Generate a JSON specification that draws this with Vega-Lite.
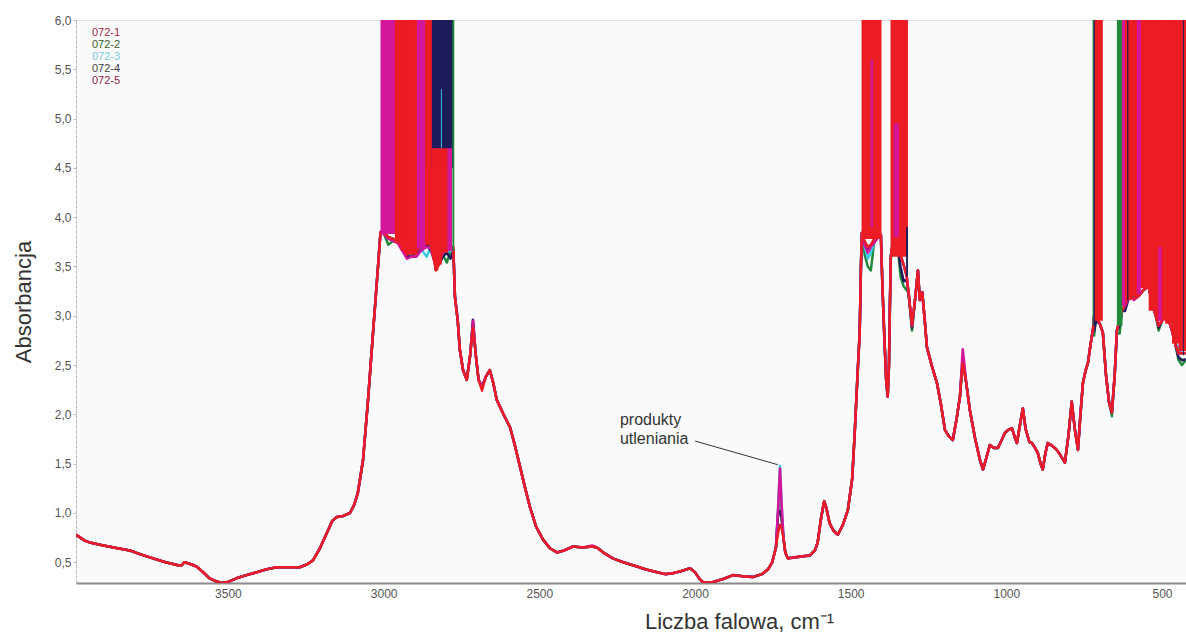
{
"$schema":"https://vega.github.io/schema/vega-lite/v6.json",
"width":1110,"height":563,
"autosize":{"type":"none"},
"padding":{"left":76,"top":20,"right":0,"bottom":50},
"background":"#ffffff",
"config":{"view":{"fill":"#fafafa","stroke":"#e2e2e2"},"font":"Liberation Sans"},
"datasets":{
"widma":[
{"w":3988,"072-1":0.78,"072-2":0.78,"072-3":0.78,"072-4":0.78,"072-5":0.78},
{"w":3960,"072-1":0.72,"072-2":0.72,"072-3":0.72,"072-4":0.72,"072-5":0.72},
{"w":3943,"072-1":0.70,"072-2":0.70,"072-3":0.70,"072-4":0.70,"072-5":0.70},
{"w":3900,"072-1":0.67,"072-2":0.67,"072-3":0.67,"072-4":0.67,"072-5":0.67},
{"w":3850,"072-1":0.64,"072-2":0.64,"072-3":0.64,"072-4":0.64,"072-5":0.64},
{"w":3815,"072-1":0.62,"072-2":0.62,"072-3":0.62,"072-4":0.62,"072-5":0.62},
{"w":3780,"072-1":0.58,"072-2":0.58,"072-3":0.58,"072-4":0.58,"072-5":0.58},
{"w":3741,"072-1":0.54,"072-2":0.54,"072-3":0.54,"072-4":0.54,"072-5":0.54},
{"w":3700,"072-1":0.50,"072-2":0.50,"072-3":0.50,"072-4":0.50,"072-5":0.50},
{"w":3660,"072-1":0.47,"072-2":0.47,"072-3":0.47,"072-4":0.47,"072-5":0.47},
{"w":3648,"072-1":0.47,"072-2":0.47,"072-3":0.47,"072-4":0.47,"072-5":0.47},
{"w":3640,"072-1":0.50,"072-2":0.50,"072-3":0.50,"072-4":0.50,"072-5":0.50},
{"w":3628,"072-1":0.49,"072-2":0.49,"072-3":0.49,"072-4":0.49,"072-5":0.49},
{"w":3610,"072-1":0.47,"072-2":0.47,"072-3":0.47,"072-4":0.47,"072-5":0.47},
{"w":3598,"072-1":0.45,"072-2":0.45,"072-3":0.45,"072-4":0.45,"072-5":0.45},
{"w":3580,"072-1":0.40,"072-2":0.40,"072-3":0.40,"072-4":0.40,"072-5":0.40},
{"w":3560,"072-1":0.34,"072-2":0.34,"072-3":0.34,"072-4":0.34,"072-5":0.34},
{"w":3540,"072-1":0.31,"072-2":0.31,"072-3":0.31,"072-4":0.31,"072-5":0.31},
{"w":3520,"072-1":0.29,"072-2":0.29,"072-3":0.29,"072-4":0.29,"072-5":0.29},
{"w":3500,"072-1":0.30,"072-2":0.30,"072-3":0.30,"072-4":0.30,"072-5":0.30},
{"w":3471,"072-1":0.34,"072-2":0.34,"072-3":0.34,"072-4":0.34,"072-5":0.34},
{"w":3440,"072-1":0.37,"072-2":0.37,"072-3":0.37,"072-4":0.37,"072-5":0.37},
{"w":3407,"072-1":0.40,"072-2":0.40,"072-3":0.40,"072-4":0.40,"072-5":0.40},
{"w":3375,"072-1":0.43,"072-2":0.43,"072-3":0.43,"072-4":0.43,"072-5":0.43},
{"w":3343,"072-1":0.45,"072-2":0.45,"072-3":0.45,"072-4":0.45,"072-5":0.45},
{"w":3300,"072-1":0.45,"072-2":0.45,"072-3":0.45,"072-4":0.45,"072-5":0.45},
{"w":3269,"072-1":0.45,"072-2":0.45,"072-3":0.45,"072-4":0.45,"072-5":0.45},
{"w":3245,"072-1":0.48,"072-2":0.48,"072-3":0.48,"072-4":0.48,"072-5":0.48},
{"w":3227,"072-1":0.52,"072-2":0.52,"072-3":0.52,"072-4":0.52,"072-5":0.52},
{"w":3205,"072-1":0.64,"072-2":0.64,"072-3":0.64,"072-4":0.64,"072-5":0.64},
{"w":3182,"072-1":0.80,"072-2":0.80,"072-3":0.80,"072-4":0.80,"072-5":0.80},
{"w":3165,"072-1":0.92,"072-2":0.92,"072-3":0.92,"072-4":0.92,"072-5":0.92},
{"w":3150,"072-1":0.96,"072-2":0.96,"072-3":0.96,"072-4":0.96,"072-5":0.96},
{"w":3130,"072-1":0.97,"072-2":0.97,"072-3":0.97,"072-4":0.97,"072-5":0.97},
{"w":3108,"072-1":1.00,"072-2":1.00,"072-3":1.00,"072-4":1.00,"072-5":1.00},
{"w":3095,"072-1":1.08,"072-2":1.08,"072-3":1.08,"072-4":1.08,"072-5":1.08},
{"w":3083,"072-1":1.20,"072-2":1.20,"072-3":1.20,"072-4":1.20,"072-5":1.20},
{"w":3066,"072-1":1.54,"072-2":1.54,"072-3":1.54,"072-4":1.54,"072-5":1.54},
{"w":3050,"072-1":2.15,"072-2":2.15,"072-3":2.15,"072-4":2.15,"072-5":2.15},
{"w":3034,"072-1":2.83,"072-2":2.83,"072-3":2.83,"072-4":2.83,"072-5":2.83},
{"w":3018,"072-1":3.50,"072-2":3.50,"072-3":3.50,"072-4":3.50,"072-5":3.50},
{"w":3010,"072-1":3.85,"072-2":3.85,"072-3":3.85,"072-4":3.85,"072-5":3.85},
{"w":3000,"072-1":3.85,"072-2":3.84,"072-3":3.84,"072-4":3.84,"072-5":3.83},
{"w":2985,"072-1":3.80,"072-2":3.72,"072-3":3.80,"072-4":3.80,"072-5":3.78},
{"w":2970,"072-1":3.78,"072-2":3.76,"072-3":3.78,"072-4":3.78,"072-5":3.76},
{"w":2955,"072-1":3.76,"072-2":3.74,"072-3":3.75,"072-4":3.75,"072-5":3.74},
{"w":2940,"072-1":3.70,"072-2":3.68,"072-3":3.68,"072-4":3.70,"072-5":3.66},
{"w":2925,"072-1":3.62,"072-2":3.60,"072-3":3.60,"072-4":3.60,"072-5":3.58},
{"w":2910,"072-1":3.64,"072-2":3.62,"072-3":3.62,"072-4":3.60,"072-5":3.60},
{"w":2895,"072-1":3.66,"072-2":3.64,"072-3":3.64,"072-4":3.64,"072-5":3.60},
{"w":2880,"072-1":3.70,"072-2":3.68,"072-3":3.68,"072-4":3.66,"072-5":3.66},
{"w":2862,"072-1":3.74,"072-2":3.72,"072-3":3.60,"072-4":3.72,"072-5":3.70},
{"w":2848,"072-1":3.72,"072-2":3.70,"072-3":3.70,"072-4":3.66,"072-5":3.68},
{"w":2832,"072-1":3.46,"072-2":3.50,"072-3":3.50,"072-4":3.52,"072-5":3.50},
{"w":2822,"072-1":3.52,"072-2":3.55,"072-3":3.55,"072-4":3.52,"072-5":3.55},
{"w":2810,"072-1":3.66,"072-2":3.62,"072-3":3.62,"072-4":3.60,"072-5":3.64},
{"w":2797,"072-1":3.68,"072-2":3.54,"072-3":3.64,"072-4":3.64,"072-5":3.66},
{"w":2785,"072-1":3.70,"072-2":3.66,"072-3":3.66,"072-4":3.58,"072-5":3.68},
{"w":2776,"072-1":3.70,"072-2":3.66,"072-3":3.68,"072-4":3.66,"072-5":3.68},
{"w":2771,"072-1":3.18,"072-2":3.20,"072-3":3.20,"072-4":3.20,"072-5":3.20},
{"w":2762,"072-1":2.95,"072-2":2.95,"072-3":2.95,"072-4":2.95,"072-5":2.95},
{"w":2755,"072-1":2.65,"072-2":2.65,"072-3":2.65,"072-4":2.65,"072-5":2.65},
{"w":2745,"072-1":2.45,"072-2":2.45,"072-3":2.45,"072-4":2.45,"072-5":2.45},
{"w":2733,"072-1":2.35,"072-2":2.35,"072-3":2.35,"072-4":2.35,"072-5":2.35},
{"w":2722,"072-1":2.60,"072-2":2.60,"072-3":2.60,"072-4":2.60,"072-5":2.60},
{"w":2713,"072-1":2.88,"072-2":2.92,"072-3":2.92,"072-4":2.96,"072-5":2.95},
{"w":2704,"072-1":2.60,"072-2":2.60,"072-3":2.60,"072-4":2.60,"072-5":2.60},
{"w":2695,"072-1":2.35,"072-2":2.35,"072-3":2.35,"072-4":2.35,"072-5":2.35},
{"w":2684,"072-1":2.24,"072-2":2.28,"072-3":2.28,"072-4":2.28,"072-5":2.28},
{"w":2672,"072-1":2.38,"072-2":2.38,"072-3":2.38,"072-4":2.38,"072-5":2.38},
{"w":2659,"072-1":2.45,"072-2":2.45,"072-3":2.45,"072-4":2.45,"072-5":2.45},
{"w":2648,"072-1":2.32,"072-2":2.32,"072-3":2.32,"072-4":2.32,"072-5":2.32},
{"w":2637,"072-1":2.15,"072-2":2.15,"072-3":2.15,"072-4":2.15,"072-5":2.15},
{"w":2615,"072-1":2.00,"072-2":2.00,"072-3":2.00,"072-4":2.00,"072-5":2.00},
{"w":2594,"072-1":1.87,"072-2":1.87,"072-3":1.87,"072-4":1.87,"072-5":1.87},
{"w":2578,"072-1":1.68,"072-2":1.68,"072-3":1.68,"072-4":1.68,"072-5":1.68},
{"w":2562,"072-1":1.47,"072-2":1.47,"072-3":1.47,"072-4":1.47,"072-5":1.47},
{"w":2546,"072-1":1.26,"072-2":1.26,"072-3":1.26,"072-4":1.26,"072-5":1.26},
{"w":2530,"072-1":1.06,"072-2":1.06,"072-3":1.06,"072-4":1.06,"072-5":1.06},
{"w":2510,"072-1":0.86,"072-2":0.86,"072-3":0.86,"072-4":0.86,"072-5":0.86},
{"w":2488,"072-1":0.73,"072-2":0.73,"072-3":0.73,"072-4":0.73,"072-5":0.73},
{"w":2465,"072-1":0.64,"072-2":0.64,"072-3":0.64,"072-4":0.64,"072-5":0.64},
{"w":2443,"072-1":0.60,"072-2":0.60,"072-3":0.60,"072-4":0.60,"072-5":0.60},
{"w":2420,"072-1":0.62,"072-2":0.62,"072-3":0.62,"072-4":0.62,"072-5":0.62},
{"w":2392,"072-1":0.66,"072-2":0.66,"072-3":0.66,"072-4":0.66,"072-5":0.66},
{"w":2360,"072-1":0.65,"072-2":0.65,"072-3":0.65,"072-4":0.65,"072-5":0.65},
{"w":2330,"072-1":0.66,"072-2":0.66,"072-3":0.66,"072-4":0.66,"072-5":0.67},
{"w":2315,"072-1":0.65,"072-2":0.65,"072-3":0.65,"072-4":0.65,"072-5":0.65},
{"w":2290,"072-1":0.59,"072-2":0.59,"072-3":0.59,"072-4":0.59,"072-5":0.59},
{"w":2264,"072-1":0.54,"072-2":0.54,"072-3":0.54,"072-4":0.54,"072-5":0.54},
{"w":2230,"072-1":0.50,"072-2":0.50,"072-3":0.50,"072-4":0.50,"072-5":0.50},
{"w":2199,"072-1":0.47,"072-2":0.47,"072-3":0.47,"072-4":0.47,"072-5":0.47},
{"w":2160,"072-1":0.43,"072-2":0.43,"072-3":0.43,"072-4":0.43,"072-5":0.43},
{"w":2122,"072-1":0.40,"072-2":0.40,"072-3":0.40,"072-4":0.40,"072-5":0.40},
{"w":2095,"072-1":0.38,"072-2":0.38,"072-3":0.38,"072-4":0.38,"072-5":0.38},
{"w":2071,"072-1":0.39,"072-2":0.39,"072-3":0.39,"072-4":0.39,"072-5":0.39},
{"w":2045,"072-1":0.41,"072-2":0.41,"072-3":0.41,"072-4":0.41,"072-5":0.41},
{"w":2016,"072-1":0.44,"072-2":0.44,"072-3":0.44,"072-4":0.44,"072-5":0.44},
{"w":2000,"072-1":0.40,"072-2":0.40,"072-3":0.40,"072-4":0.40,"072-5":0.40},
{"w":1985,"072-1":0.33,"072-2":0.33,"072-3":0.33,"072-4":0.33,"072-5":0.33},
{"w":1975,"072-1":0.30,"072-2":0.30,"072-3":0.30,"072-4":0.30,"072-5":0.30},
{"w":1960,"072-1":0.29,"072-2":0.29,"072-3":0.29,"072-4":0.29,"072-5":0.29},
{"w":1942,"072-1":0.30,"072-2":0.30,"072-3":0.30,"072-4":0.30,"072-5":0.30},
{"w":1910,"072-1":0.33,"072-2":0.33,"072-3":0.33,"072-4":0.33,"072-5":0.33},
{"w":1878,"072-1":0.37,"072-2":0.37,"072-3":0.37,"072-4":0.37,"072-5":0.37},
{"w":1850,"072-1":0.36,"072-2":0.36,"072-3":0.36,"072-4":0.36,"072-5":0.36},
{"w":1814,"072-1":0.35,"072-2":0.35,"072-3":0.35,"072-4":0.35,"072-5":0.35},
{"w":1785,"072-1":0.38,"072-2":0.38,"072-3":0.38,"072-4":0.38,"072-5":0.38},
{"w":1765,"072-1":0.43,"072-2":0.43,"072-3":0.43,"072-4":0.43,"072-5":0.43},
{"w":1752,"072-1":0.50,"072-2":0.50,"072-3":0.50,"072-4":0.50,"072-5":0.50},
{"w":1740,"072-1":0.65,"072-2":0.65,"072-3":0.65,"072-4":0.65,"072-5":0.65},
{"w":1733,"072-1":0.80,"072-2":1.00,"072-3":1.05,"072-4":1.00,"072-5":1.05},
{"w":1727,"072-1":0.88,"072-2":1.30,"072-3":1.48,"072-4":1.02,"072-5":1.45},
{"w":1722,"072-1":0.85,"072-2":1.00,"072-3":1.10,"072-4":0.95,"072-5":1.10},
{"w":1716,"072-1":0.75,"072-2":0.75,"072-3":0.75,"072-4":0.75,"072-5":0.75},
{"w":1710,"072-1":0.60,"072-2":0.60,"072-3":0.60,"072-4":0.60,"072-5":0.60},
{"w":1702,"072-1":0.54,"072-2":0.54,"072-3":0.54,"072-4":0.54,"072-5":0.54},
{"w":1680,"072-1":0.55,"072-2":0.55,"072-3":0.55,"072-4":0.55,"072-5":0.55},
{"w":1655,"072-1":0.56,"072-2":0.56,"072-3":0.56,"072-4":0.56,"072-5":0.56},
{"w":1631,"072-1":0.57,"072-2":0.57,"072-3":0.57,"072-4":0.57,"072-5":0.57},
{"w":1615,"072-1":0.62,"072-2":0.62,"072-3":0.62,"072-4":0.62,"072-5":0.62},
{"w":1606,"072-1":0.70,"072-2":0.70,"072-3":0.70,"072-4":0.70,"072-5":0.70},
{"w":1595,"072-1":0.95,"072-2":0.95,"072-3":0.95,"072-4":0.95,"072-5":0.95},
{"w":1585,"072-1":1.12,"072-2":1.12,"072-3":1.12,"072-4":1.12,"072-5":1.12},
{"w":1578,"072-1":1.05,"072-2":1.05,"072-3":1.05,"072-4":1.05,"072-5":1.05},
{"w":1568,"072-1":0.90,"072-2":0.90,"072-3":0.90,"072-4":0.90,"072-5":0.90},
{"w":1555,"072-1":0.82,"072-2":0.82,"072-3":0.82,"072-4":0.82,"072-5":0.82},
{"w":1541,"072-1":0.78,"072-2":0.78,"072-3":0.78,"072-4":0.78,"072-5":0.78},
{"w":1525,"072-1":0.88,"072-2":0.88,"072-3":0.88,"072-4":0.88,"072-5":0.88},
{"w":1509,"072-1":1.03,"072-2":1.03,"072-3":1.03,"072-4":1.03,"072-5":1.03},
{"w":1495,"072-1":1.35,"072-2":1.35,"072-3":1.35,"072-4":1.35,"072-5":1.35},
{"w":1487,"072-1":1.81,"072-2":1.81,"072-3":1.81,"072-4":1.81,"072-5":1.81},
{"w":1478,"072-1":2.40,"072-2":2.40,"072-3":2.40,"072-4":2.40,"072-5":2.40},
{"w":1471,"072-1":2.83,"072-2":2.83,"072-3":2.83,"072-4":2.83,"072-5":2.83},
{"w":1467,"072-1":3.50,"072-2":3.50,"072-3":3.50,"072-4":3.50,"072-5":3.50},
{"w":1464,"072-1":3.84,"072-2":3.84,"072-3":3.84,"072-4":3.84,"072-5":3.84},
{"w":1455,"072-1":3.76,"072-2":3.62,"072-3":3.70,"072-4":3.72,"072-5":3.72},
{"w":1445,"072-1":3.70,"072-2":3.50,"072-3":3.58,"072-4":3.66,"072-5":3.64},
{"w":1435,"072-1":3.72,"072-2":3.46,"072-3":3.64,"072-4":3.72,"072-5":3.70},
{"w":1425,"072-1":3.78,"072-2":3.74,"072-3":3.74,"072-4":3.74,"072-5":3.74},
{"w":1412,"072-1":3.80,"072-2":3.80,"072-3":3.80,"072-4":3.80,"072-5":3.80},
{"w":1403,"072-1":3.82,"072-2":3.82,"072-3":3.82,"072-4":3.82,"072-5":3.82},
{"w":1398,"072-1":3.30,"072-2":3.30,"072-3":3.30,"072-4":3.30,"072-5":3.30},
{"w":1392,"072-1":2.80,"072-2":2.80,"072-3":2.80,"072-4":2.80,"072-5":2.80},
{"w":1386,"072-1":2.35,"072-2":2.35,"072-3":2.35,"072-4":2.35,"072-5":2.35},
{"w":1381,"072-1":2.18,"072-2":2.18,"072-3":2.18,"072-4":2.18,"072-5":2.18},
{"w":1377,"072-1":2.50,"072-2":2.50,"072-3":2.50,"072-4":2.50,"072-5":2.50},
{"w":1374,"072-1":3.10,"072-2":3.10,"072-3":3.10,"072-4":3.10,"072-5":3.10},
{"w":1371,"072-1":3.60,"072-2":3.60,"072-3":3.60,"072-4":3.60,"072-5":3.60},
{"w":1362,"072-1":3.80,"072-2":3.80,"072-3":3.80,"072-4":3.80,"072-5":3.80},
{"w":1350,"072-1":3.74,"072-2":3.74,"072-3":3.74,"072-4":3.74,"072-5":3.74},
{"w":1340,"072-1":3.62,"072-2":3.40,"072-3":3.62,"072-4":3.50,"072-5":3.62},
{"w":1330,"072-1":3.52,"072-2":3.30,"072-3":3.52,"072-4":3.35,"072-5":3.52},
{"w":1320,"072-1":3.40,"072-2":3.26,"072-3":3.40,"072-4":3.36,"072-5":3.40},
{"w":1314,"072-1":3.23,"072-2":3.23,"072-3":3.23,"072-4":3.23,"072-5":3.23},
{"w":1303,"072-1":2.90,"072-2":2.85,"072-3":2.90,"072-4":2.88,"072-5":2.90},
{"w":1292,"072-1":3.20,"072-2":3.20,"072-3":3.20,"072-4":3.20,"072-5":3.20},
{"w":1284,"072-1":3.46,"072-2":3.46,"072-3":3.46,"072-4":3.46,"072-5":3.46},
{"w":1278,"072-1":3.16,"072-2":3.16,"072-3":3.16,"072-4":3.16,"072-5":3.16},
{"w":1270,"072-1":3.24,"072-2":3.24,"072-3":3.24,"072-4":3.24,"072-5":3.24},
{"w":1262,"072-1":2.95,"072-2":2.95,"072-3":2.95,"072-4":2.95,"072-5":2.95},
{"w":1255,"072-1":2.68,"072-2":2.68,"072-3":2.68,"072-4":2.68,"072-5":2.68},
{"w":1240,"072-1":2.50,"072-2":2.50,"072-3":2.50,"072-4":2.50,"072-5":2.50},
{"w":1223,"072-1":2.32,"072-2":2.32,"072-3":2.32,"072-4":2.32,"072-5":2.32},
{"w":1210,"072-1":2.10,"072-2":2.10,"072-3":2.10,"072-4":2.10,"072-5":2.10},
{"w":1197,"072-1":1.84,"072-2":1.84,"072-3":1.84,"072-4":1.84,"072-5":1.84},
{"w":1185,"072-1":1.78,"072-2":1.78,"072-3":1.78,"072-4":1.78,"072-5":1.78},
{"w":1172,"072-1":1.74,"072-2":1.74,"072-3":1.74,"072-4":1.74,"072-5":1.74},
{"w":1160,"072-1":1.95,"072-2":1.95,"072-3":1.95,"072-4":1.95,"072-5":1.95},
{"w":1149,"072-1":2.18,"072-2":2.18,"072-3":2.18,"072-4":2.18,"072-5":2.18},
{"w":1140,"072-1":2.52,"072-2":2.56,"072-3":2.58,"072-4":2.56,"072-5":2.66},
{"w":1128,"072-1":2.30,"072-2":2.30,"072-3":2.30,"072-4":2.30,"072-5":2.30},
{"w":1117,"072-1":2.04,"072-2":2.04,"072-3":2.04,"072-4":2.04,"072-5":2.04},
{"w":1100,"072-1":1.75,"072-2":1.75,"072-3":1.75,"072-4":1.75,"072-5":1.75},
{"w":1085,"072-1":1.54,"072-2":1.54,"072-3":1.54,"072-4":1.54,"072-5":1.54},
{"w":1075,"072-1":1.44,"072-2":1.44,"072-3":1.44,"072-4":1.44,"072-5":1.44},
{"w":1065,"072-1":1.55,"072-2":1.55,"072-3":1.55,"072-4":1.55,"072-5":1.55},
{"w":1053,"072-1":1.69,"072-2":1.69,"072-3":1.69,"072-4":1.69,"072-5":1.69},
{"w":1040,"072-1":1.66,"072-2":1.66,"072-3":1.66,"072-4":1.66,"072-5":1.66},
{"w":1027,"072-1":1.66,"072-2":1.66,"072-3":1.66,"072-4":1.66,"072-5":1.66},
{"w":1015,"072-1":1.74,"072-2":1.74,"072-3":1.74,"072-4":1.74,"072-5":1.74},
{"w":1005,"072-1":1.81,"072-2":1.81,"072-3":1.81,"072-4":1.81,"072-5":1.81},
{"w":995,"072-1":1.84,"072-2":1.84,"072-3":1.84,"072-4":1.84,"072-5":1.84},
{"w":982,"072-1":1.86,"072-2":1.86,"072-3":1.86,"072-4":1.86,"072-5":1.86},
{"w":972,"072-1":1.76,"072-2":1.76,"072-3":1.76,"072-4":1.76,"072-5":1.76},
{"w":966,"072-1":1.71,"072-2":1.71,"072-3":1.71,"072-4":1.71,"072-5":1.71},
{"w":956,"072-1":1.90,"072-2":1.90,"072-3":1.90,"072-4":1.90,"072-5":1.90},
{"w":947,"072-1":2.06,"072-2":2.06,"072-3":2.06,"072-4":2.06,"072-5":2.06},
{"w":938,"072-1":1.85,"072-2":1.85,"072-3":1.85,"072-4":1.85,"072-5":1.85},
{"w":926,"072-1":1.72,"072-2":1.72,"072-3":1.72,"072-4":1.72,"072-5":1.72},
{"w":918,"072-1":1.71,"072-2":1.71,"072-3":1.71,"072-4":1.71,"072-5":1.71},
{"w":908,"072-1":1.66,"072-2":1.66,"072-3":1.66,"072-4":1.66,"072-5":1.66},
{"w":899,"072-1":1.61,"072-2":1.61,"072-3":1.61,"072-4":1.61,"072-5":1.61},
{"w":890,"072-1":1.50,"072-2":1.50,"072-3":1.50,"072-4":1.50,"072-5":1.50},
{"w":883,"072-1":1.44,"072-2":1.44,"072-3":1.44,"072-4":1.44,"072-5":1.44},
{"w":875,"072-1":1.60,"072-2":1.60,"072-3":1.60,"072-4":1.60,"072-5":1.60},
{"w":867,"072-1":1.71,"072-2":1.71,"072-3":1.71,"072-4":1.71,"072-5":1.71},
{"w":852,"072-1":1.68,"072-2":1.68,"072-3":1.68,"072-4":1.68,"072-5":1.68},
{"w":838,"072-1":1.64,"072-2":1.64,"072-3":1.64,"072-4":1.64,"072-5":1.64},
{"w":825,"072-1":1.58,"072-2":1.58,"072-3":1.58,"072-4":1.58,"072-5":1.58},
{"w":812,"072-1":1.51,"072-2":1.51,"072-3":1.51,"072-4":1.51,"072-5":1.51},
{"w":800,"072-1":1.80,"072-2":1.80,"072-3":1.80,"072-4":1.80,"072-5":1.80},
{"w":790,"072-1":2.13,"072-2":2.13,"072-3":2.13,"072-4":2.13,"072-5":2.13},
{"w":780,"072-1":1.85,"072-2":1.85,"072-3":1.85,"072-4":1.85,"072-5":1.85},
{"w":770,"072-1":1.64,"072-2":1.64,"072-3":1.64,"072-4":1.64,"072-5":1.64},
{"w":762,"072-1":2.00,"072-2":2.00,"072-3":2.00,"072-4":2.00,"072-5":2.00},
{"w":754,"072-1":2.32,"072-2":2.32,"072-3":2.32,"072-4":2.32,"072-5":2.32},
{"w":745,"072-1":2.45,"072-2":2.45,"072-3":2.45,"072-4":2.45,"072-5":2.45},
{"w":738,"072-1":2.52,"072-2":2.52,"072-3":2.52,"072-4":2.52,"072-5":2.52},
{"w":730,"072-1":2.70,"072-2":2.70,"072-3":2.70,"072-4":2.70,"072-5":2.70},
{"w":722,"072-1":2.86,"072-2":2.86,"072-3":2.86,"072-4":2.86,"072-5":2.86},
{"w":718,"072-1":3.00,"072-2":2.80,"072-3":3.00,"072-4":2.85,"072-5":3.00},
{"w":712,"072-1":3.00,"072-2":2.98,"072-3":3.00,"072-4":2.95,"072-5":3.00},
{"w":700,"072-1":2.92,"072-2":2.92,"072-3":2.92,"072-4":2.92,"072-5":2.92},
{"w":690,"072-1":2.83,"072-2":2.83,"072-3":2.83,"072-4":2.83,"072-5":2.83},
{"w":680,"072-1":2.40,"072-2":2.40,"072-3":2.40,"072-4":2.40,"072-5":2.40},
{"w":670,"072-1":2.12,"072-2":2.12,"072-3":2.12,"072-4":2.12,"072-5":2.12},
{"w":661,"072-1":2.02,"072-2":1.98,"072-3":2.02,"072-4":2.02,"072-5":2.02},
{"w":652,"072-1":2.40,"072-2":2.40,"072-3":2.40,"072-4":2.40,"072-5":2.40},
{"w":645,"072-1":2.85,"072-2":2.82,"072-3":2.85,"072-4":2.85,"072-5":2.85},
{"w":636,"072-1":3.00,"072-2":2.82,"072-3":2.95,"072-4":2.90,"072-5":2.95},
{"w":629,"072-1":3.05,"072-2":3.05,"072-3":3.05,"072-4":3.05,"072-5":3.05},
{"w":619,"072-1":3.12,"072-2":3.10,"072-3":3.10,"072-4":3.05,"072-5":3.10},
{"w":605,"072-1":3.20,"072-2":3.20,"072-3":3.20,"072-4":3.20,"072-5":3.20},
{"w":590,"072-1":3.18,"072-2":3.18,"072-3":3.18,"072-4":3.18,"072-5":3.16},
{"w":575,"072-1":3.20,"072-2":3.20,"072-3":3.20,"072-4":3.20,"072-5":3.20},
{"w":560,"072-1":3.26,"072-2":3.26,"072-3":3.26,"072-4":3.26,"072-5":3.26},
{"w":543,"072-1":3.30,"072-2":3.30,"072-3":3.30,"072-4":3.30,"072-5":3.30},
{"w":530,"072-1":3.10,"072-2":3.10,"072-3":3.10,"072-4":3.10,"072-5":3.10},
{"w":520,"072-1":3.00,"072-2":3.00,"072-3":3.00,"072-4":3.00,"072-5":3.00},
{"w":511,"072-1":2.90,"072-2":2.85,"072-3":2.90,"072-4":2.88,"072-5":2.90},
{"w":500,"072-1":2.95,"072-2":2.95,"072-3":2.95,"072-4":2.95,"072-5":2.95},
{"w":490,"072-1":3.00,"072-2":3.00,"072-3":3.00,"072-4":3.00,"072-5":3.00},
{"w":479,"072-1":2.96,"072-2":2.96,"072-3":2.96,"072-4":2.96,"072-5":2.96},
{"w":468,"072-1":2.85,"072-2":2.85,"072-3":2.85,"072-4":2.85,"072-5":2.85},
{"w":458,"072-1":2.72,"072-2":2.72,"072-3":2.72,"072-4":2.72,"072-5":2.72},
{"w":447,"072-1":2.62,"072-2":2.55,"072-3":2.68,"072-4":2.58,"072-5":2.62},
{"w":436,"072-1":2.62,"072-2":2.50,"072-3":2.62,"072-4":2.55,"072-5":2.62},
{"w":424,"072-1":2.62,"072-2":2.55,"072-3":2.62,"072-4":2.56,"072-5":2.62}
],
"pasy":[
{"s":"072-5","w1":3010,"w2":2962,"lo":3.83,"hi":6},
{"s":"072-1","w1":2964,"w2":2943,"lo":3.74,"hi":6},
{"s":"072-1","w1":2945,"w2":2928,"lo":3.66,"hi":6},
{"s":"072-1","w1":2930,"w2":2891,"lo":3.62,"hi":6},
{"s":"072-5","w1":2893,"w2":2865,"lo":3.68,"hi":6},
{"s":"072-1","w1":2867,"w2":2843,"lo":3.72,"hi":6},
{"s":"072-4","w1":2845,"w2":2776,"lo":4.5,"hi":6},
{"s":"072-1","w1":2845,"w2":2836,"lo":3.6,"hi":4.7},
{"s":"072-1","w1":2838,"w2":2824,"lo":3.46,"hi":4.7},
{"s":"072-1","w1":2826,"w2":2813,"lo":3.52,"hi":4.7},
{"s":"072-1","w1":2815,"w2":2793,"lo":3.64,"hi":4.7},
{"s":"072-5","w1":2795,"w2":2780,"lo":3.66,"hi":4.7},
{"s":"072-3","w1":2816,"w2":2813,"lo":4.7,"hi":5.3},
{"s":"072-2","w1":2779,"w2":2773,"lo":3.66,"hi":6},
{"s":"072-1","w1":1465,"w2":1401,"lo":3.78,"hi":6},
{"s":"072-5","w1":1436,"w2":1428,"lo":3.9,"hi":5.6},
{"s":"072-1","w1":1372,"w2":1316,"lo":3.6,"hi":6},
{"s":"072-5","w1":1362,"w2":1345,"lo":3.8,"hi":4.95},
{"s":"072-4","w1":1322,"w2":1316,"lo":3.4,"hi":3.9},
{"s":"072-2","w1":723,"w2":719,"lo":2.9,"hi":6},
{"s":"072-4","w1":720,"w2":715,"lo":2.9,"hi":6},
{"s":"072-1","w1":716,"w2":690,"lo":2.95,"hi":6},
{"s":"072-2","w1":645,"w2":627,"lo":2.9,"hi":6},
{"s":"072-5","w1":629,"w2":617,"lo":3.1,"hi":6},
{"s":"072-1","w1":619,"w2":598,"lo":3.16,"hi":6},
{"s":"072-1","w1":600,"w2":573,"lo":3.2,"hi":6},
{"s":"072-1","w1":575,"w2":541,"lo":3.28,"hi":6},
{"s":"072-1","w1":543,"w2":518,"lo":3.05,"hi":6},
{"s":"072-1","w1":520,"w2":488,"lo":2.95,"hi":6},
{"s":"072-1","w1":490,"w2":466,"lo":2.92,"hi":6},
{"s":"072-1","w1":468,"w2":445,"lo":2.72,"hi":6},
{"s":"072-1","w1":447,"w2":420,"lo":2.64,"hi":6},
{"s":"072-4","w1":612,"w2":608,"lo":3.15,"hi":6},
{"s":"072-5","w1":581,"w2":568,"lo":3.22,"hi":6},
{"s":"072-5","w1":512,"w2":501,"lo":2.95,"hi":3.7},
{"s":"072-4","w1":433,"w2":430,"lo":2.6,"hi":6}
],
"strzalka":[{"w1":2000,"a1":1.73,"w2":1734,"a2":1.49}],
"opis":[{"t":"produkty","w":2241,"a":1.89},{"t":"utleniania","w":2241,"a":1.70}]
},
"layer":[
{"data":{"name":"widma"},
"transform":[{"fold":["072-2","072-3","072-4","072-5","072-1"],"as":["seria","A"]}],
"mark":{"type":"line","clip":true,"strokeJoin":"round"},
"encoding":{
"x":{"field":"w","type":"quantitative","title":"Liczba falowa, cm⁻¹",
"scale":{"domain":[3988,423],"nice":false,"zero":false},
"axis":{"values":[3500,3000,2500,2000,1500,1000,500],"format":"d","grid":false,"ticks":false,"domainColor":"#8a8a8a","domainWidth":2,"labelFont":"Liberation Sans","labelFontSize":12,"labelColor":"#555555","labelPadding":5,"titleFont":"Liberation Sans","titleFontSize":22,"titleFontWeight":"normal","titleColor":"#333333","titleX":663,"titleY":45,"titleBaseline":"alphabetic","titleAlign":"center"}},
"y":{"field":"A","type":"quantitative","title":"Absorbancja",
"scale":{"domain":[0.29,6.0],"nice":false,"zero":false},
"axis":{"values":[0.5,1,1.5,2,2.5,3,3.5,4,4.5,5,5.5,6],"labelExpr":"replace(format(datum.value, '.1f'), '.', ',')","grid":false,"domainColor":"#b8b8b8","domainDash":[3,2],"domainWidth":1,"ticks":true,"tickSize":3,"tickColor":"#b8b8b8","labelPadding":2,"labelFont":"Liberation Sans","labelFontSize":12,"labelColor":"#555555","titleFont":"Liberation Sans","titleFontSize":22,"titleFontWeight":"normal","titleColor":"#333333","titleX":-53,"titleBaseline":"middle"}},
"color":{"field":"seria","type":"nominal",
"scale":{"domain":["072-1","072-2","072-3","072-4","072-5"],"range":["#ec1c24","#1f8a3a","#3cc8e8","#1c1c5a","#d4179a"]},
"legend":{"orient":"none","legendX":5,"legendY":7,"title":null,"symbolOpacity":0,"symbolSize":0,"symbolStrokeWidth":0,"labelFont":"Liberation Sans","labelFontSize":11,"labelOffset":0,"rowPadding":0,"padding":0,
"encode":{"labels":{"update":{"fill":{"signal":"datum.value==='072-1'?'#9a2a48':datum.value==='072-2'?'#3d5a2c':datum.value==='072-3'?'#7ccbe6':datum.value==='072-4'?'#3e3e48':'#8e1d4e'"}}}}}},
"strokeWidth":{"field":"seria","type":"nominal","scale":{"domain":["072-1","072-2","072-3","072-4","072-5"],"range":[2.4,2.6,2.6,2.6,3.8]},"legend":null}
}},
{"data":{"name":"pasy"},
"mark":{"type":"rect","clip":true},
"encoding":{
"x":{"field":"w1","type":"quantitative"},
"x2":{"field":"w2"},
"y":{"field":"lo","type":"quantitative"},
"y2":{"field":"hi"},
"color":{"field":"s","type":"nominal"}
}},
{"data":{"name":"strzalka"},
"mark":{"type":"rule","color":"#333333","strokeWidth":1},
"encoding":{
"x":{"field":"w1","type":"quantitative"},
"x2":{"field":"w2"},
"y":{"field":"a1","type":"quantitative"},
"y2":{"field":"a2"}
}},
{"data":{"name":"opis"},
"mark":{"type":"text","align":"left","baseline":"alphabetic","font":"Liberation Sans","fontSize":16,"color":"#333333"},
"encoding":{
"x":{"field":"w","type":"quantitative"},
"y":{"field":"a","type":"quantitative"},
"text":{"field":"t"}
}}
]
}
